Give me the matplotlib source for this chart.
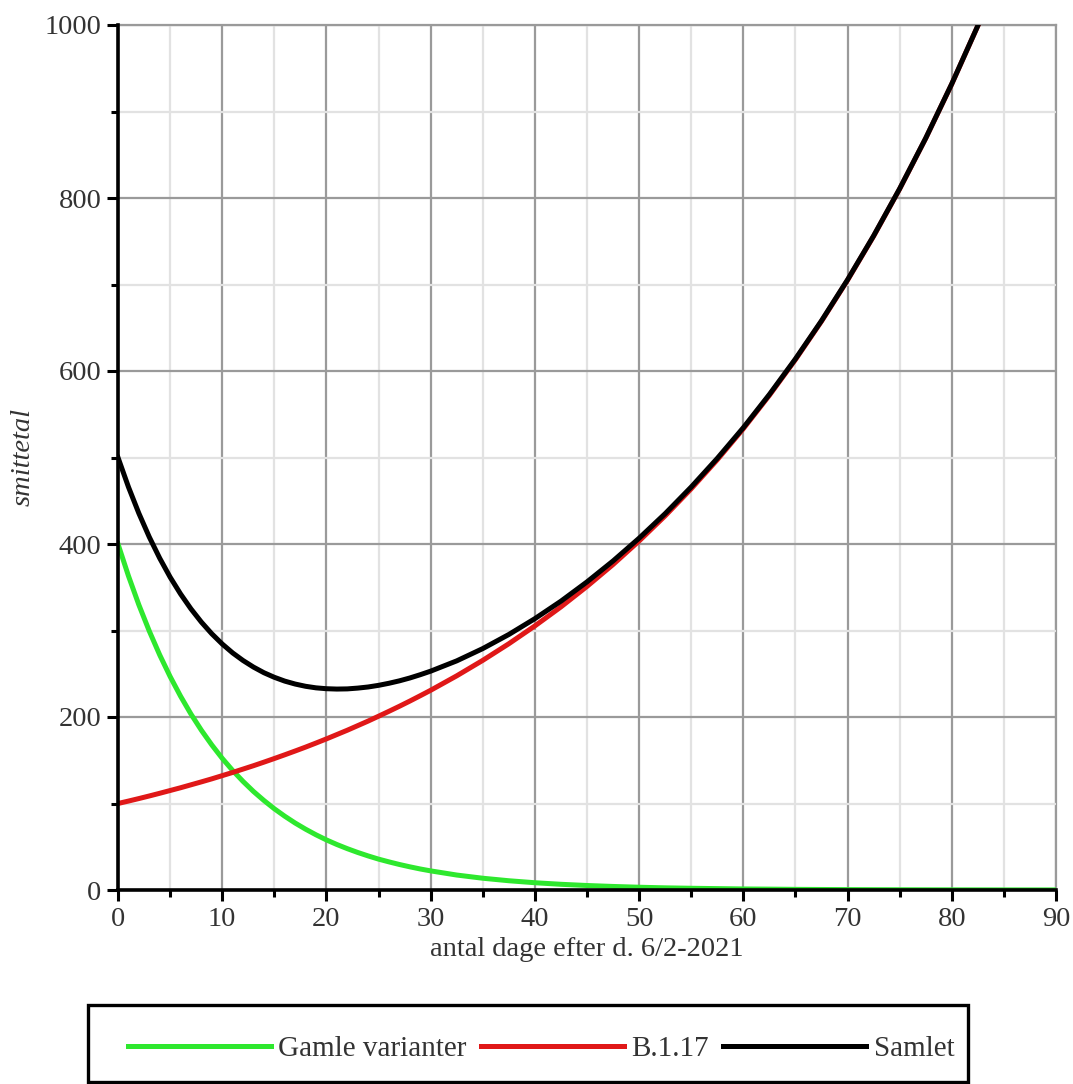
import numpy as np
import matplotlib
matplotlib.use("Agg")
import matplotlib.pyplot as plt
from matplotlib.ticker import MultipleLocator
from matplotlib.patches import Rectangle

plt.rcParams['font.family'] = ['Liberation Serif', 'DejaVu Serif']

# days after 6/2-2021
dage = [0, 1, 2, 3, 4, 5, 6, 7, 8, 9, 10, 11, 12, 13, 14, 15, 16, 17, 18, 19, 20,
        21, 22, 23, 24, 25, 26, 27, 28, 29, 30, 32.5, 35, 37.5, 40, 42.5, 45, 47.5,
        50, 52.5, 55, 57.5, 60, 62.5, 65, 67.5, 70, 72.5, 75, 77.5, 80, 82.5, 85,
        87.5, 90]
gamle = [400, 363.2, 329.7, 299.4, 271.8, 246.8, 224.1, 203.4, 184.7, 167.7, 152.2,
         138.2, 125.5, 113.9, 103.5, 93.9, 85.3, 77.4, 70.3, 63.8, 57.9, 52.6, 47.8,
         43.4, 39.4, 35.7, 32.5, 29.5, 26.8, 24.3, 22.1, 17.3, 13.6, 10.7, 8.4, 6.6,
         5.2, 4.1, 3.2, 2.5, 2.0, 1.6, 1.2, 1.0, 0.75, 0.6, 0.46, 0.37, 0.29, 0.23,
         0.18, 0.14, 0.11, 0.09, 0.07]
b117 = [100, 102.8, 105.7, 108.7, 111.8, 115.0, 118.2, 121.6, 125.0, 128.5, 132.2,
        135.9, 139.8, 143.7, 147.8, 152.0, 156.3, 160.7, 165.2, 169.9, 174.7, 179.7,
        184.7, 190.0, 195.3, 200.9, 206.6, 212.4, 218.4, 224.6, 230.9, 247.6, 265.5,
        284.7, 305.3, 327.3, 351.0, 376.3, 403.5, 432.6, 463.9, 497.4, 533.3, 571.9,
        613.2, 657.5, 705.0, 755.9, 810.5, 869.0, 931.8, 999.1, 1071.3, 1148.7, 1231.7]
samlet = [500, 466.0, 435.5, 408.1, 383.6, 361.7, 342.3, 325.0, 309.7, 296.2, 284.4,
          274.1, 265.3, 257.7, 251.2, 245.9, 241.5, 238.1, 235.5, 233.7, 232.7, 232.3,
          232.5, 233.4, 234.7, 236.6, 239.0, 241.8, 245.1, 248.9, 253.0, 264.9, 279.1,
          295.4, 313.7, 333.9, 356.2, 380.4, 406.7, 435.1, 465.9, 499.0, 534.5, 572.9,
          614.0, 658.1, 705.5, 756.3, 810.8, 869.2, 932.0, 999.2, 1071.4, 1148.8, 1231.8]

W, H = 1073, 1084
fig = plt.figure(figsize=(W/100, H/100), dpi=100)
ax = fig.add_axes([118/W, 1 - 890/H, (1056-118)/W, (890-25)/H])

ax.plot(dage, gamle, color='#2ee82e', lw=3.6, label='Gamle varianter')
ax.plot(dage, b117, color='#e01818', lw=3.6, label='B.1.17')
ax.plot(dage, samlet, color='black', lw=3.6, label='Samlet')

ax.set_xlim(0, 90)
ax.set_ylim(0, 1000)
ax.xaxis.set_major_locator(MultipleLocator(10))
ax.xaxis.set_minor_locator(MultipleLocator(5))
ax.yaxis.set_major_locator(MultipleLocator(200))
ax.yaxis.set_minor_locator(MultipleLocator(100))

ax.grid(which='major', color='#9a9a9a', lw=1.6, zorder=0)
ax.grid(which='minor', color='#e2e2e2', lw=1.6, zorder=0)
ax.set_axisbelow(True)

for s in ['top', 'right']:
    ax.spines[s].set_visible(False)
for s in ['left', 'bottom']:
    ax.spines[s].set_linewidth(2.6)
    ax.spines[s].set_color('black')

# grid at the outer edges (90 and 1000)
ax.axvline(90, color='#9a9a9a', lw=1.6, zorder=0, clip_on=False)
ax.axhline(1000, color='#9a9a9a', lw=1.6, zorder=0, clip_on=False)

ax.tick_params(which='major', length=8, width=2.2, labelsize=20.5, colors='black', pad=4)
ax.tick_params(which='minor', length=5, width=2.2)
for lab in ax.get_xticklabels() + ax.get_yticklabels():
    lab.set_color('#333333')

ax.set_xlabel('antal dage efter d. 6/2-2021', fontsize=20.5, color='#333333', labelpad=4)
ax.set_ylabel('smittetal', fontsize=20.5, style='italic', color='#333333', labelpad=6)

# legend box below the plot
fig.patches.append(Rectangle((88/W, 1 - 1082/H), (968-88)/W, (1082-1005)/H,
                             transform=fig.transFigure, fill=False,
                             edgecolor='black', lw=2.4))
leg = fig.legend(loc='center', bbox_to_anchor=(541/W, 1 - 1049/H), ncol=3,
                 fontsize=21, handlelength=4.9, handletextpad=0.25,
                 columnspacing=0.5, frameon=False, borderpad=0, borderaxespad=0)
for t in leg.get_texts():
    t.set_color('#333333')

fig.savefig('out.png', dpi=100)
